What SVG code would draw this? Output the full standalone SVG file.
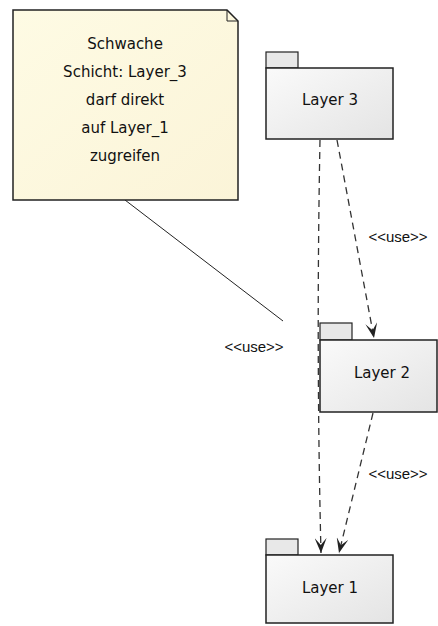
<svg xmlns="http://www.w3.org/2000/svg" width="438" height="626" viewBox="0 0 438 626">
<defs>
<linearGradient id="pk" x1="0" y1="0" x2="1" y2="1">
<stop offset="0" stop-color="#FAFAFA"/><stop offset="1" stop-color="#E4E4E4"/>
</linearGradient>
<linearGradient id="nt" x1="0" y1="0" x2="1" y2="1">
<stop offset="0" stop-color="#FEFBE4"/><stop offset="1" stop-color="#FBF4D8"/>
</linearGradient>
<marker id="arr" viewBox="0 0 15 12" refX="15" refY="6" markerWidth="15" markerHeight="12" orient="auto" markerUnits="userSpaceOnUse">
<path d="M0,0 L15,6 L0,12 L7,6 Z" fill="#222"/>
</marker>
</defs>
<style>
.pkg{fill:url(#pk);stroke:#222;stroke-width:1.5}
.tab{fill:#E8E8E8;stroke:#222;stroke-width:1.2}
.lbl{font-family:"Comic Sans MS","DejaVu Sans",sans-serif;font-size:15px;fill:#111;text-anchor:middle}
.use{font-family:"Liberation Sans","DejaVu Sans",sans-serif;font-size:15px;fill:#111;text-anchor:middle}
.dash{fill:none;stroke:#333;stroke-width:1.3;stroke-dasharray:7,5}
</style>
<g id="connectors">
<line x1="125" y1="200" x2="283" y2="321" stroke="#222" stroke-width="1"/>
<path class="dash" d="M320,140 Q316,350 321,553" marker-end="url(#arr)"/>
<path class="dash" d="M337,140 L374,338" marker-end="url(#arr)"/>
<path class="dash" d="M373,413 L339,553" marker-end="url(#arr)"/>
<text class="use" x="398" y="242">&lt;&lt;use&gt;&gt;</text>
<text class="use" x="254" y="352">&lt;&lt;use&gt;&gt;</text>
<text class="use" x="398" y="479">&lt;&lt;use&gt;&gt;</text>
</g>
<g id="note">
<path d="M13,10 L227,10 L238,21 L238,200 L13,200 Z" fill="url(#nt)" stroke="#222" stroke-width="1.5"/>
<path d="M227,10 L227,21 L238,21" fill="none" stroke="#222" stroke-width="1"/>
<text class="lbl" x="125" y="49">Schwache</text>
<text class="lbl" x="125" y="77">Schicht: Layer_3</text>
<text class="lbl" x="125" y="105">darf direkt</text>
<text class="lbl" x="125" y="133">auf Layer_1</text>
<text class="lbl" x="125" y="161">zugreifen</text>
</g>
<g id="layer3">
<rect class="tab" x="266" y="52" width="32" height="16"/>
<rect class="pkg" x="266" y="68" width="127" height="71"/>
<text class="lbl" x="330" y="105">Layer 3</text>
</g>
<g id="layer2">
<rect class="tab" x="320" y="323" width="32" height="17"/>
<rect class="pkg" x="320" y="340" width="117" height="72"/>
<text class="lbl" x="382" y="378">Layer 2</text>
</g>
<g id="layer1">
<rect class="tab" x="266" y="539" width="32" height="16"/>
<rect class="pkg" x="266" y="555" width="127" height="68"/>
<text class="lbl" x="330" y="593">Layer 1</text>
</g>
</svg>
